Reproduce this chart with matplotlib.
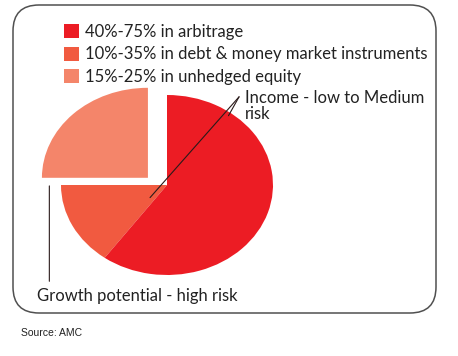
import matplotlib
matplotlib.use("Agg")
import matplotlib.pyplot as plt
from matplotlib.patches import FancyBboxPatch

# --- Data ---
labels = [
    "40%-75% in arbitrage",
    "10%-35% in debt & money market instruments",
    "15%-25% in unhedged equity",
]
shares = [60, 15, 25]          # arbitrage, debt, equity
colors = ["#EC1C24", "#F15A40", "#F4856A"]
income_note = "Income - low to Medium\nrisk"
growth_note = "Growth potential - high risk"
source_note = "Source: AMC"

W, H = 458, 356
plt.rcParams["font.family"] = ["Lato", "DejaVu Sans"]
fig = plt.figure(figsize=(W / 100, H / 100), dpi=100)

# background axes in pixel units for the frame
bg = fig.add_axes([0, 0, 1, 1])
bg.set_xlim(0, W)
bg.set_ylim(H, 0)
bg.axis("off")
frame = FancyBboxPatch((13, 5), 423, 308, boxstyle="round,pad=0,rounding_size=26",
                       fc="white", ec="#505050", lw=1.1)
bg.add_patch(frame)

# --- Pie (elliptical) ---
cx, cy, rx, ry = 167, 185, 106, 90
ax = fig.add_axes([(cx - rx) / W, (H - cy - ry) / H, 2 * rx / W, 2 * ry / H])
# draw in order equity -> debt -> arbitrage, counter-clockwise from 12 o'clock
order = [2, 1, 0]
wedges, _ = ax.pie([shares[i] for i in order], colors=[colors[i] for i in order],
                   startangle=90, counterclock=True,
                   wedgeprops=dict(linewidth=0))
wedges[0].set_center((-0.18, 0.08))   # pull the equity slice out
ax.set_aspect("auto")
ax.set_xlim(-1, 1)
ax.set_ylim(-1, 1)
ax.axis("off")

# leader lines for the notes
line_kw = dict(arrowstyle="-", lw=0.8, color="#2a1a1a", shrinkA=0, shrinkB=0)
ax.annotate("", xy=(-0.16, -0.14), xytext=(0.68, 0.98), arrowprops=line_kw,
            annotation_clip=False)
ax.annotate("", xy=(0.58, 0.77), xytext=(0.68, 0.98), arrowprops=line_kw,
            annotation_clip=False)
ax.annotate("", xy=(-1.11, -1.07), xytext=(-1.11, -0.01), arrowprops=line_kw,
            annotation_clip=False)

# --- Legend ---
fs = 12
handles = [wedges[order.index(i)] for i in range(3)]
leg = fig.legend(handles, labels, loc="upper left", bbox_to_anchor=(64 / W, 1 - 24 / H),
                 frameon=False, fontsize=fs, handlelength=0.9, handleheight=0.9,
                 handletextpad=0.38, labelspacing=0.38, borderpad=0, borderaxespad=0)
for t in leg.get_texts():
    t.set_color("#222222")

# --- Notes ---
bg.text(245, 106, income_note, fontsize=fs, color="#222222", va="center",
        ha="left", linespacing=1.05)
bg.text(37, 296, growth_note, fontsize=fs, color="#222222", va="center", ha="left")
bg.text(21, 333, source_note, fontsize=7.5, color="#222222", va="center", ha="left",
        family="Liberation Sans")

fig.savefig("out.png", dpi=100)
